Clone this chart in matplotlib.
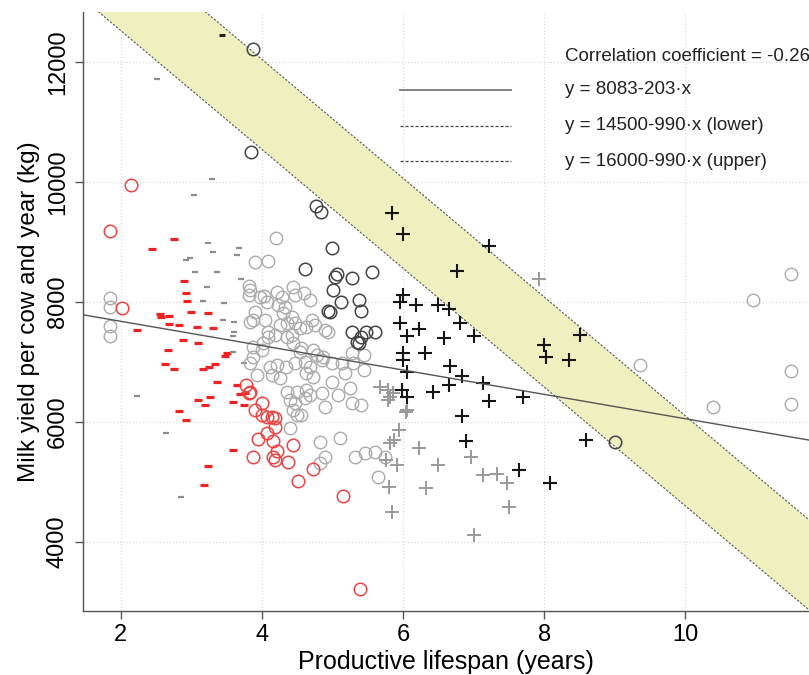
import matplotlib.pyplot as plt
import numpy as np

plt.rcParams['font.family'] = ['Liberation Sans', 'DejaVu Sans']

# productive lifespan (years) / milk yield (kg) per group
red_dash_x = [2.75, 2.44, 2.89, 2.93, 2.94, 2.99, 3.23, 2.56, 2.57, 2.68, 2.68, 2.82, 3.08,
              3.31, 2.23, 2.88, 3.10, 2.67, 3.50, 3.47, 2.63, 2.75, 3.34, 3.25, 3.17, 3.37,
              3.64, 3.69, 3.76, 3.27, 3.09, 3.59, 3.19, 3.75, 2.82, 2.92, 3.59, 3.24, 3.18]
red_dash_y = [9045, 8883, 8355, 8145, 8017, 7838, 7811, 7795, 7745, 7772, 7638, 7622, 7588,
              7572, 7538, 7362, 7322, 7200, 7155, 7100, 6962, 6883, 6962, 6922, 6878, 6672,
              6617, 6462, 6478, 6412, 6367, 6328, 6278, 6278, 6183, 6028, 5533, 5262, 4955]

gray_dash_x = [2.52, 3.29, 3.04, 3.24, 3.31, 3.68, 3.64, 2.98, 2.92, 3.05, 3.37, 3.70,
               3.22, 3.17, 3.46, 3.45, 3.60, 3.61, 3.59, 3.59, 3.74, 2.23, 2.64, 2.85]
gray_dash_y = [11722, 10056, 9789, 8978, 8838, 8895, 8783, 8738, 8700, 8500, 8500, 8378,
               8245, 8017, 7978, 7700, 7662, 7500, 7433, 7172, 6988, 6433, 5812, 4750]

black_dash_x = [3.43]
black_dash_y = [12450]

red_circ_x = [1.84, 2.15, 2.01, 3.78, 3.83, 3.81, 4.00, 3.90, 4.00, 4.07, 4.14, 4.19, 4.19,
              4.07, 3.95, 4.16, 4.44, 4.21, 4.16, 4.19, 3.88, 4.37, 4.73, 4.51, 5.15, 5.39]
red_circ_y = [9188, 9945, 7905, 6617, 6505, 6478, 6322, 6200, 6117, 6088, 6088, 6062, 5912,
              5812, 5712, 5688, 5617, 5522, 5422, 5367, 5412, 5338, 5212, 5010, 4762, 3212]

gray_circ_x = [1.85, 1.85, 1.85, 1.85, 11.49, 10.96, 9.35, 11.49, 10.39, 11.49,
               4.20, 3.90, 4.08, 3.81, 3.83, 3.81, 4.03, 4.07, 4.21, 4.28, 4.44, 4.47, 4.60,
               4.68, 4.23, 4.33, 4.30, 3.90, 3.88, 3.83, 4.04, 4.42, 4.47, 4.71, 4.75, 4.63,
               4.26, 4.35, 4.09, 4.09, 4.19, 4.42, 4.54, 4.94, 4.89, 3.88, 4.00, 4.56, 4.73,
               3.88, 3.83, 4.02, 4.35, 4.44, 4.54, 4.78, 4.87, 3.97,
               4.11, 4.21, 4.34, 4.47, 4.61, 4.68, 4.85, 4.99, 5.13, 5.29, 5.44, 5.27,
               4.14, 4.26, 4.63, 4.73, 5.18, 5.44, 3.93, 4.99,
               4.35, 4.49, 4.63, 4.68, 4.61, 4.85, 5.08, 5.25,
               4.40, 4.47, 4.89, 5.27, 5.41, 4.44, 4.49, 4.56, 4.40,
               4.82, 5.11, 4.89, 4.82, 5.32, 5.46, 5.60, 5.74, 5.65]
gray_circ_y = [8062, 7912, 7600, 7433, 8467, 8033, 6945, 6850, 6255, 6305,
               9072, 8672, 8683, 8267, 8200, 8117, 8100, 8005, 8172, 8088, 8255, 8117, 8145,
               8033, 7950, 7922, 7812, 7838, 7700, 7672, 7700, 7755, 7645, 7700, 7617, 7588,
               7617, 7645, 7505, 7422, 7450, 7450, 7562, 7505, 7533, 7255, 7200, 7228, 7200,
               7088, 6978, 7312, 7422, 7312, 7172, 7117, 7088, 8088,
               6922, 6950, 6922, 6978, 7005, 6922, 7033, 6978, 6978, 6978, 7117, 7145,
               6783, 6728, 6812, 6755, 6812, 6867, 6783, 6672,
               6505, 6505, 6533, 6450, 6395, 6478, 6450, 6562,
               6367, 6312, 6255, 6312, 6283, 6200, 6117, 6117, 5895,
               5672, 5728, 5422, 5312, 5422, 5478, 5505, 5422, 5088]

dark_circ_x = [3.87, 3.85, 4.77, 4.83, 4.99, 4.61, 5.04, 5.07, 5.27, 5.56, 5.01, 5.12,
               5.37, 5.40, 4.94, 4.96, 5.27, 5.41, 5.48, 5.60, 5.34, 5.37, 9.00]
dark_circ_y = [12211, 10500, 9600, 9500, 8905, 8545, 8422, 8462, 8395, 8505, 8200, 8005,
               8033, 7850, 7850, 7828, 7495, 7422, 7495, 7505, 7338, 7312, 5672]

black_plus_x = [5.84, 6.00, 6.77, 7.21, 8.00, 8.02, 8.50, 8.35, 8.59, 8.08,
                6.00, 5.95, 6.18, 6.50, 6.65, 5.96, 6.22, 6.80, 6.06, 6.58, 7.00, 6.31,
                6.00, 6.00, 6.06, 6.66, 6.84, 6.65, 7.13, 5.98, 6.06, 6.42, 7.22, 7.70,
                6.84, 6.89, 7.64]
black_plus_y = [9478, 9133, 8517, 8938, 7283, 7088, 7450, 7028, 5700, 4988,
                8117, 7995, 7950, 7950, 7878, 7645, 7545, 7645, 7433, 7395, 7433, 7155,
                7145, 7033, 6838, 6933, 6767, 6617, 6655, 6533, 6422, 6505, 6350, 6422,
                6100, 5683, 5200]

gray_plus_x = [7.92, 6.04, 5.94, 5.87, 5.82, 5.76, 5.92, 6.23, 6.50, 6.96, 7.13, 7.33,
               7.47, 7.50, 6.33, 5.80, 5.84, 7.00, 5.67, 5.78, 5.81, 5.79, 5.86, 6.05]
gray_plus_y = [8383, 6172, 5867, 5700, 5655, 5367, 5283, 5572, 5283, 5412, 5117, 5133,
               4988, 4578, 4895, 4922, 4505, 4117, 6588, 6533, 6422, 6367, 6478, 6200]

# regression and band
reg_a, reg_b = 8083, -203
band_lo, band_hi, band_slope = 14500, 16000, -990
corr = -0.26

xmin, xmax = 1.46, 11.75
ymin, ymax = 2850, 12830

fig = plt.figure(figsize=(8.09, 6.75), dpi=100)
ax = fig.add_axes([0.1022, 0.0948, 0.8978, 0.8874])

xs = np.linspace(xmin, xmax, 200)
ax.fill_between(xs, band_lo + band_slope * xs, band_hi + band_slope * xs,
                color='#eef0bf', zorder=1, lw=0)
for b in (band_lo, band_hi):
    ax.plot(xs, b + band_slope * xs, color='#555555', lw=0.8,
            dashes=(2, 1.5), zorder=2)
ax.plot(xs, reg_a + reg_b * xs, color='#555555', lw=1.0, zorder=4)

ax.plot(red_dash_x, red_dash_y, ls='none', marker='_', ms=5.5, mew=2.3,
        color='#ee2222', zorder=3)
ax.plot(gray_dash_x, gray_dash_y, ls='none', marker='_', ms=5, mew=1.6,
        color='#8c8c8c', zorder=3)
ax.plot(black_dash_x, black_dash_y, ls='none', marker='_', ms=5, mew=2.2,
        color='#222222', zorder=3)
ax.plot(gray_circ_x, gray_circ_y, ls='none', marker='o', ms=9, mfc='none',
        mew=1.0, color='#ababab', zorder=3)
ax.plot(red_circ_x, red_circ_y, ls='none', marker='o', ms=9, mfc='none',
        mew=1.1, color='#ee4444', zorder=3)
ax.plot(dark_circ_x, dark_circ_y, ls='none', marker='o', ms=9, mfc='none',
        mew=1.1, color='#444444', zorder=3)
ax.plot(gray_plus_x, gray_plus_y, ls='none', marker='+', ms=10, mew=1.4,
        color='#9a9a9a', zorder=3)
ax.plot(black_plus_x, black_plus_y, ls='none', marker='+', ms=10, mew=1.5,
        color='#151515', zorder=3)

# key for the lines
key_x0, key_x1, txt_x = 0.437, 0.590, 0.664
fs_key = 13.5
ax.text(txt_x, 0.925, 'Correlation coefficient = %.2f' % corr, transform=ax.transAxes,
        fontsize=fs_key, va='center', ha='left', color='#222222')
ax.plot([key_x0, key_x1], [0.870, 0.870], transform=ax.transAxes, color='#777777', lw=1.3)
ax.text(txt_x, 0.870, 'y = %d%d\u00b7x' % (reg_a, reg_b), transform=ax.transAxes,
        fontsize=fs_key, va='center', ha='left', color='#222222')
ax.plot([key_x0, key_x1], [0.810, 0.810], transform=ax.transAxes, color='#444444',
        lw=0.9, dashes=(2.5, 1.5))
ax.text(txt_x, 0.810, 'y = %d%d\u00b7x (lower)' % (band_lo, band_slope),
        transform=ax.transAxes, fontsize=fs_key, va='center', ha='left', color='#222222')
ax.plot([key_x0, key_x1], [0.751, 0.751], transform=ax.transAxes, color='#444444',
        lw=0.9, dashes=(2.5, 1.5))
ax.text(txt_x, 0.751, 'y = %d%d\u00b7x (upper)' % (band_hi, band_slope),
        transform=ax.transAxes, fontsize=fs_key, va='center', ha='left', color='#222222')

ax.set_xlim(xmin, xmax)
ax.set_ylim(ymin, ymax)
ax.set_xticks([2, 4, 6, 8, 10])
ax.set_yticks([4000, 6000, 8000, 10000, 12000])
ax.tick_params(axis='both', labelsize=17, length=6, width=1, color='#555555')
ax.tick_params(axis='y', labelrotation=90, pad=4)
for lab in ax.get_yticklabels():
    lab.set_va('center')
ax.grid(True, color='#dcdcdc', ls=':', lw=0.9, zorder=0)
ax.set_axisbelow(True)

for side in ('top', 'right'):
    ax.spines[side].set_visible(False)
for side in ('left', 'bottom'):
    ax.spines[side].set_color('#555555')
    ax.spines[side].set_linewidth(1.0)

ax.set_xlabel('Productive lifespan (years)', fontsize=18, labelpad=3)
ax.set_ylabel('Milk yield per cow and year (kg)', fontsize=17.5, labelpad=5)

fig.savefig('out.png', dpi=100)
